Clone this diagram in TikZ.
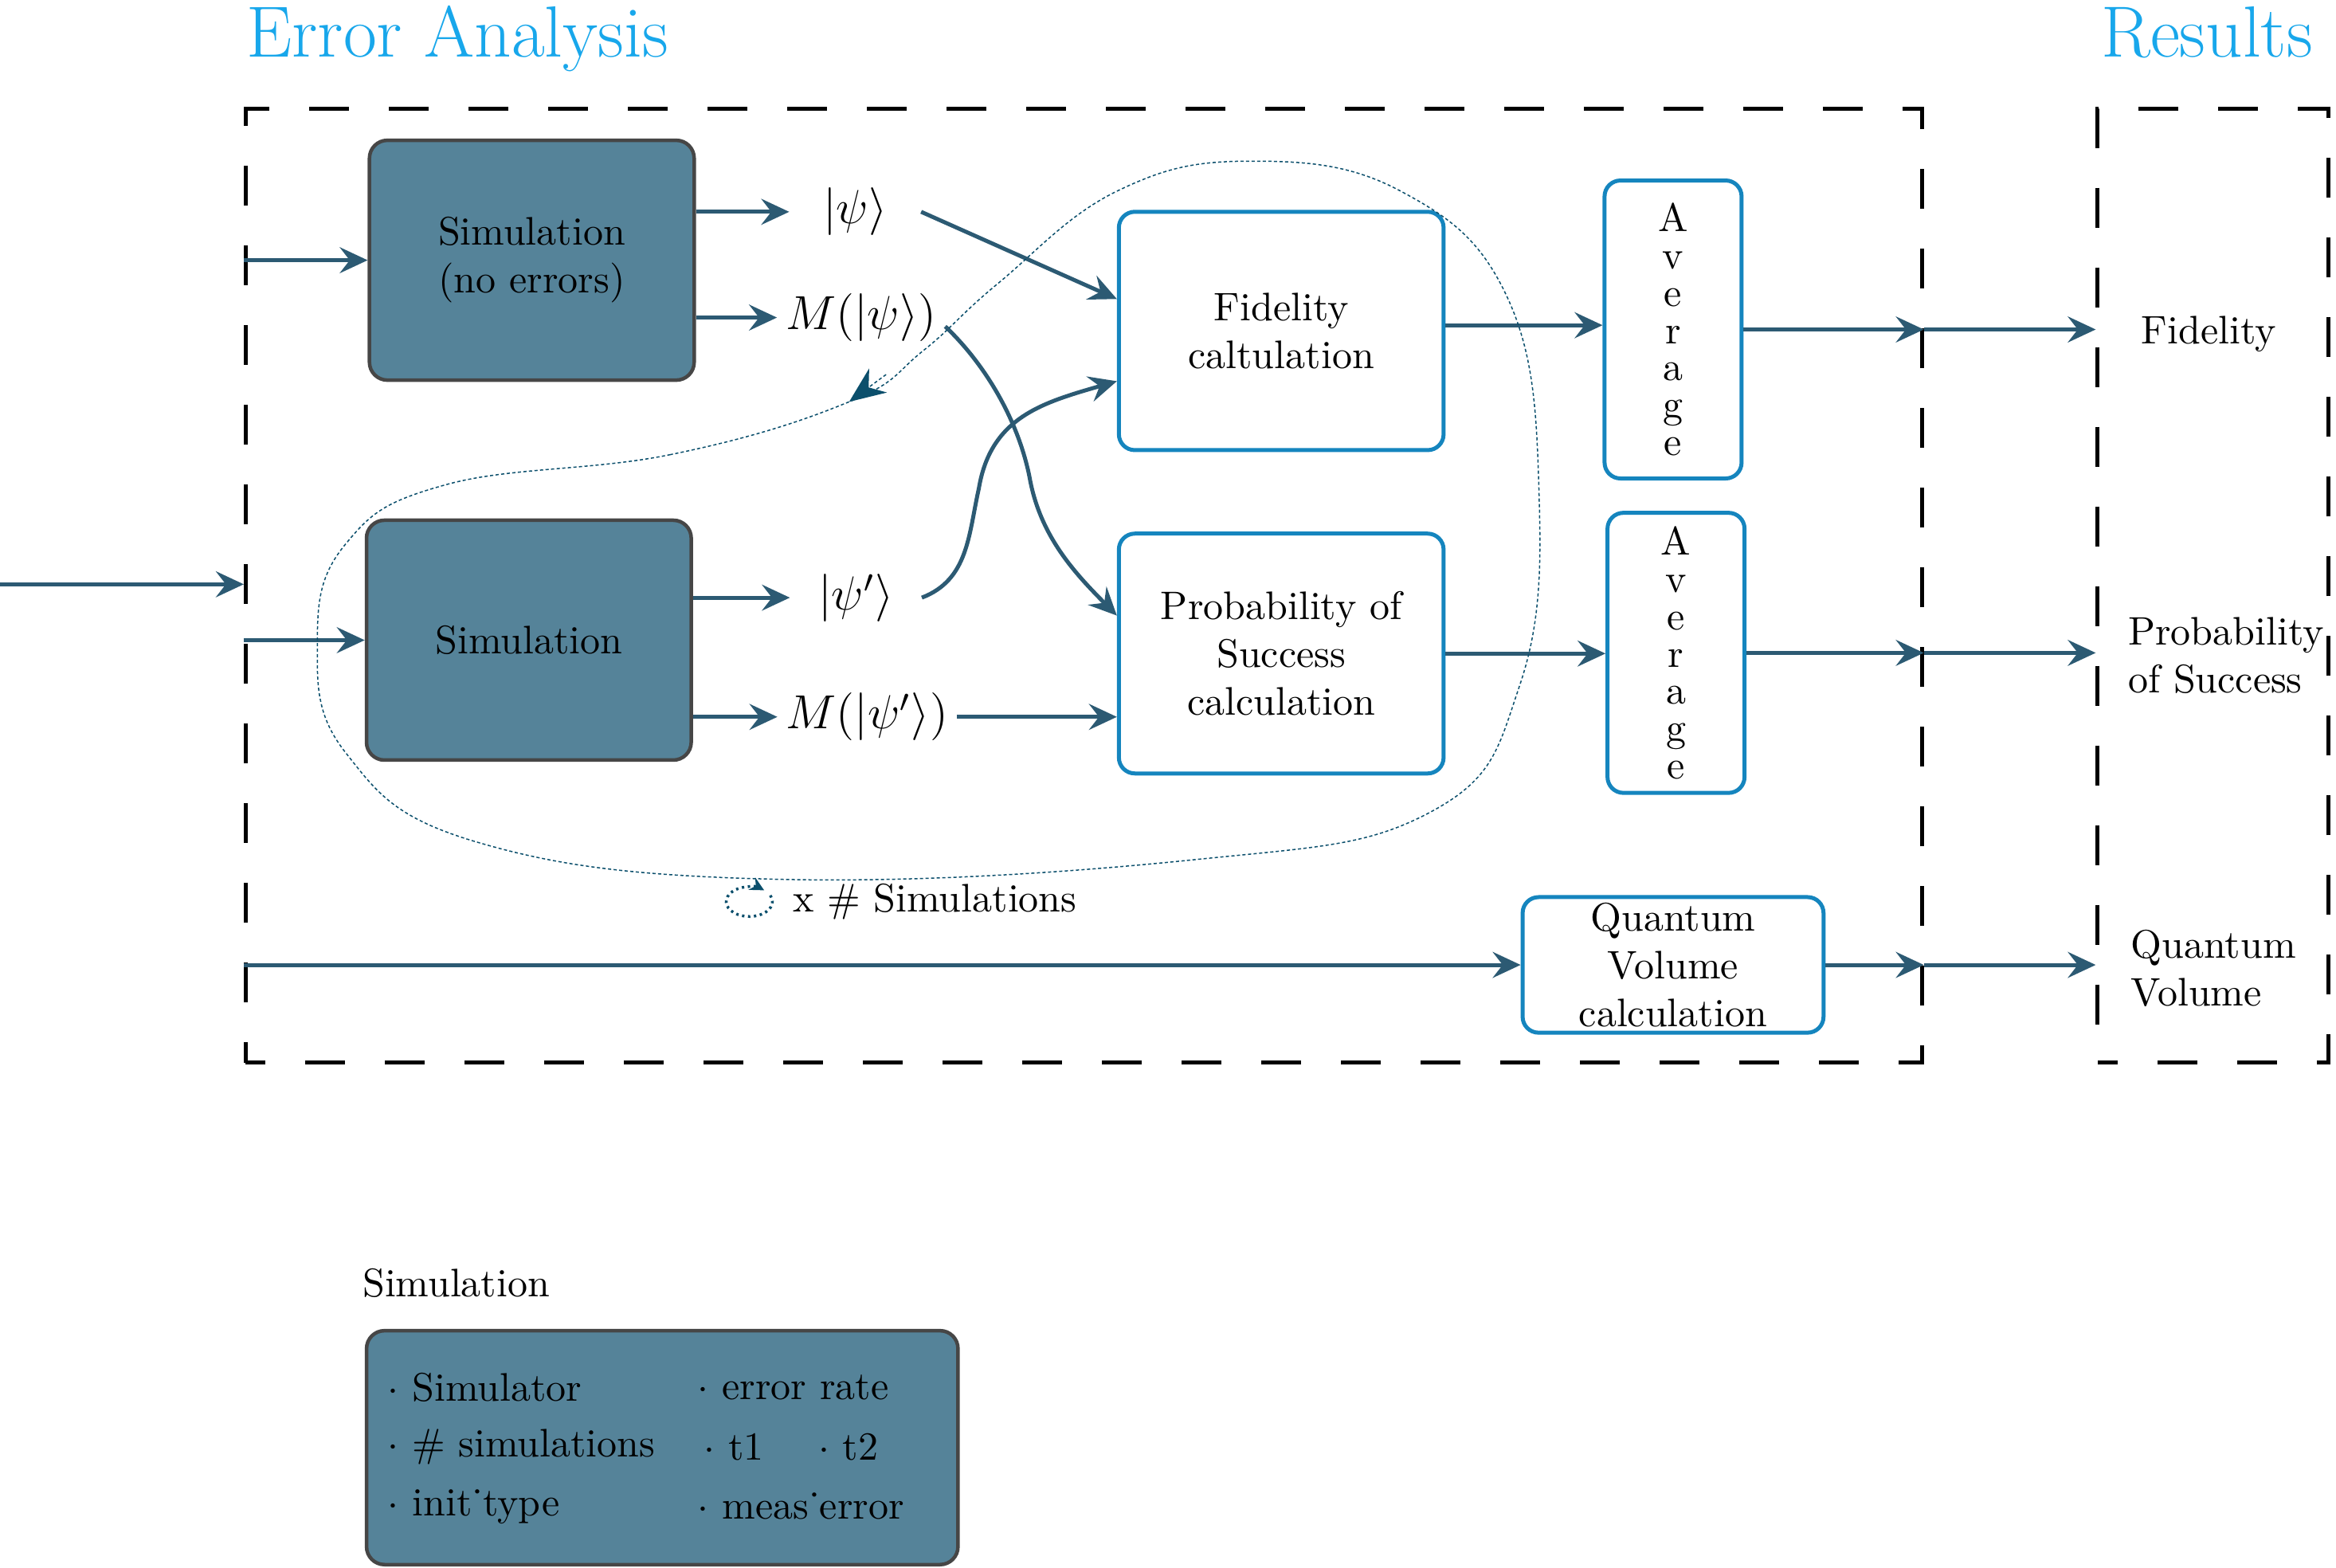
\documentclass[tikz,border=0pt]{standalone}
\usetikzlibrary{arrows.meta}

\definecolor{simfill}{RGB}{85,131,153}
\definecolor{simline}{RGB}{70,70,70}
\definecolor{calcline}{RGB}{21,133,190}
\definecolor{flow}{RGB}{44,90,115}
\definecolor{loopc}{RGB}{11,79,108}
\definecolor{headc}{RGB}{24,167,235}

\begin{document}
\begin{tikzpicture}

\tikzset{
  simbox/.style={draw=simline, fill=simfill, line width=0.9pt, rounded corners=4.5pt, align=center},
  calcbox/.style={draw=calcline, fill=white, line width=1pt, rounded corners=4pt, align=center},
  groupbox/.style={draw=black, line width=1pt, dash pattern=on 10pt off 10pt, dash phase=5pt},
  flowarrow/.style={draw=flow, line width=1pt, -{Stealth[length=7pt,width=6.5pt,inset=2.5pt]}},
  loopline/.style={draw=loopc, line width=0.3pt, dash pattern=on 0.8pt off 0.6pt},
  statelabel/.style={inner sep=2pt, minimum width=1.15cm, font=\large},
  headline/.style={font=\fontsize{18.2}{22}\selectfont, text=headc, anchor=base west, inner sep=0pt}
}

\useasboundingbox (0,0) rectangle (20.61,13.83);

% groups
\node[groupbox, minimum width=14.787cm, minimum height=8.412cm] (E_A) at (9.562,8.662) {};
\node[groupbox, minimum width=2.037cm, minimum height=8.412cm] (R_S) at (19.526,8.662) {};
\node[headline] (T_1) at (2.169,13.33) {Error Analysis};
\node[headline] (T_2) at (18.53,13.33) {Results};

% simulations
\node[simbox, minimum width=2.865cm, minimum height=2.116cm] (S_1) at (4.692,11.534) {Simulation\\(no errors)};
\node[simbox, minimum width=2.865cm, minimum height=2.116cm] (S_2) at (4.666,8.182) {Simulation};

\node[statelabel] (psi_1) at (7.545,11.961) {$|\psi\rangle$};
\node[statelabel] (Mpsi_1) at (7.597,11.028) {$M(|\psi\rangle)$};
\node[statelabel] (psi_2) at (7.551,8.557) {$|\psi'\rangle$};
\node[statelabel] (Mpsi_2) at (7.650,7.505) {$M(|\psi'\rangle)$};

% calculations
\node[calcbox, minimum width=2.865cm, minimum height=2.103cm] (F_1) at (11.304,10.910) {Fidelity\\caltulation};
\node[calcbox, minimum width=2.865cm, minimum height=2.116cm] (P_1) at (11.304,8.064) {Probability of\\Success\\calculation};
\node[calcbox, minimum width=1.209cm, minimum height=2.629cm] (A_1) at (14.761,10.923)
  {A\\[-2.65pt]v\\[-2.65pt]e\\[-2.65pt]r\\[-2.65pt]a\\[-2.65pt]g\\[-2.65pt]e};
\node[calcbox, minimum width=1.209cm, minimum height=2.471cm] (A_2) at (14.787,8.070)
  {A\\[-2.65pt]v\\[-2.65pt]e\\[-2.65pt]r\\[-2.65pt]a\\[-2.65pt]g\\[-2.65pt]e};
\node[calcbox, minimum width=2.655cm, minimum height=1.196cm, inner ysep=0pt] (Q_1) at (14.761,5.317) {Quantum\\Volume\\calculation};

% results
\node[anchor=west] (O_1) at (18.770,10.883) {Fidelity};
\node[anchor=west, align=left] (O_2) at (18.652,8.044) {Probability\\of Success};
\node[anchor=west, align=left] (O_3) at (18.678,5.284) {Quantum\\Volume};

% inputs
\coordinate (I_0) at (0,8.675);
\draw[flowarrow] (I_0) -- (I_0 -| E_A.west);
\draw[flowarrow] (E_A.west |- S_1) -- (S_1.west);
\draw[flowarrow] (E_A.west |- S_2) -- (S_2.west);
\draw[flowarrow] (E_A.west |- Q_1) -- (Q_1.west);

\draw[flowarrow] (S_1.east |- psi_1) -- (psi_1.west);
\draw[flowarrow] (S_1.east |- Mpsi_1) -- (Mpsi_1.west);
\draw[flowarrow] (S_2.east |- psi_2) -- (psi_2.west);
\draw[flowarrow] (S_2.east |- Mpsi_2) -- (Mpsi_2.west);

\draw[flowarrow] (psi_1.east) -- (F_1.169);
\draw[flowarrow] (psi_2.east) .. controls (8.544,8.715) and (8.544,9.109) .. (8.636,9.520)
  .. controls (8.741,10.151) and (9.201,10.278) .. (F_1.197);
\draw[flowarrow] (Mpsi_1.-6) .. controls (8.675,10.633) and (8.977,10.147) .. (9.083,9.622)
  .. controls (9.175,9.096) and (9.490,8.767) .. (P_1.167);
\draw[flowarrow] (Mpsi_2.east) -- (Mpsi_2.east -| P_1.west);

\draw[flowarrow] (F_1.2) -- (F_1.2 -| A_1.west);
\draw[flowarrow] (P_1.east) -- (P_1.east -| A_2.west);

\draw[flowarrow] (A_1.east) -- (A_1.east -| E_A.east);
\draw[flowarrow] (A_1.east -| E_A.east) -- (A_1.east -| R_S.west);
\draw[flowarrow] (A_2.east) -- (A_2.east -| E_A.east);
\draw[flowarrow] (A_2.east -| E_A.east) -- (A_2.east -| R_S.west);
\draw[flowarrow] (Q_1.east) -- (Q_1.east -| E_A.east);
\draw[flowarrow] (Q_1.east -| E_A.east) -- (Q_1.east -| R_S.west);

% loop over the simulations
\draw[loopline] plot[smooth cycle, tension=0.7] coordinates {
  (7.492,10.285) (5.915,9.819) (3.943,9.556) (3.049,9.030) (2.800,8.176)
  (3.049,7.190) (4.206,6.401) (6.835,6.073) (10.515,6.243) (12.618,6.664)
  (13.407,7.781) (13.578,9.490) (13.302,11.199) (12.355,12.145) (11.041,12.408)
  (9.858,12.145) (8.806,11.330) (8.149,10.739)};
\draw[loopline, -{Stealth[length=9pt,width=7.5pt]}] (7.817,10.525) -- (7.492,10.285);

\draw[loopc, line width=0.7pt, dash pattern=on 0.6pt off 0.9pt, -{Stealth[length=3.5pt,width=3.5pt]}]
  (6.611,5.875) ++(385:0.204 and 0.131) arc[start angle=385, end angle=50, x radius=0.204, y radius=0.131];
\node[anchor=west] (L_1) at (6.874,5.875) {x \# Simulations};

% legend
\node[anchor=base west] (L_2) at (3.076,2.392) {Simulation};
\node[simbox, minimum width=5.218cm, minimum height=2.064cm] (S_3) at (5.843,1.058) {};
\node[anchor=west] (B_1) at (3.299,1.590) {$\cdot$ Simulator};
\node[anchor=west] (B_2) at (3.299,1.065) {$\cdot$ \# simulations};
\node[anchor=west] (B_3) at (3.299,0.539) {$\cdot$ init˙type};
\node[anchor=west] (B_4) at (6.033,1.590) {$\cdot$ error rate};
\node[anchor=west] (B_5) at (6.086,1.065) {$\cdot$ t1};
\node[anchor=west] (B_6) at (7.098,1.065) {$\cdot$ t2};
\node[anchor=west] (B_7) at (6.033,0.539) {$\cdot$ meas˙error};

\end{tikzpicture}
\end{document}
